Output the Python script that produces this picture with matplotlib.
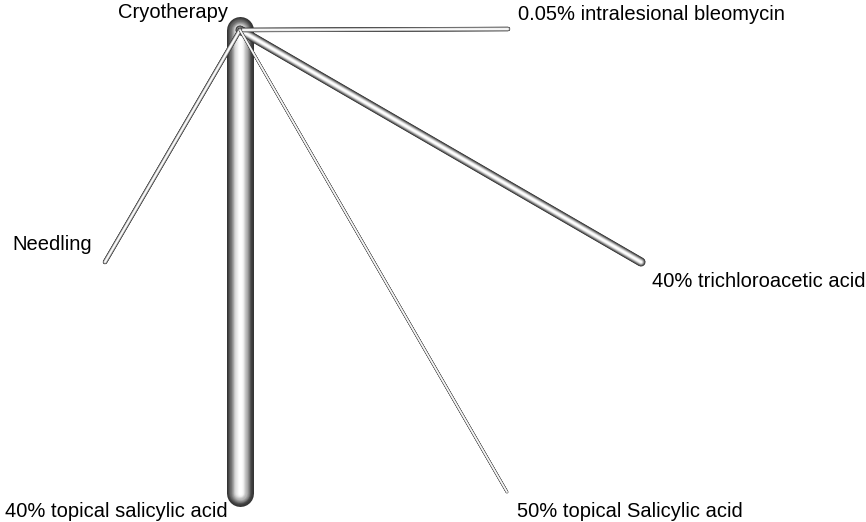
"""Network map of wart treatments (shaded tubes)."""
import matplotlib.pyplot as plt
import numpy as np

# treatments and layout positions (pixel-like units)
nodes = [
    "Cryotherapy",
    "0.05% intralesional bleomycin",
    "Needling",
    "40% trichloroacetic acid",
    "40% topical salicylic acid",
    "50% topical Salicylic acid",
]
node_x = [240, 508, 105, 641, 240, 507]
node_y = [30, 29, 262, 262, 493, 492]

# comparisons: (from, to, number of studies)
edge_from = [0, 0, 0, 0, 0]
edge_to = [4, 3, 1, 2, 5]
edge_studies = [6, 2, 1, 1, 0.6]

# label placement: offset in px from node to text baseline
label_dx = [-12, 10, -13, 11, -12, 10]
label_dy = [-12, -9, -12, 25, 24, 25]
label_ha = ["right", "left", "right", "left", "right", "left"]

fig = plt.figure(figsize=(8.66, 5.22), dpi=100)
ax = fig.add_axes([0, 0, 1, 1])
ax.set_xlim(0, 866)
ax.set_ylim(522, 0)
ax.axis("off")

px = 0.72  # points per pixel


def tube(x0, y0, x1, y1, width_px, zorder):
    n = 16
    for i in range(n):
        frac = 1 - i / n
        t = i / (n - 1)
        grey = 0.2 + 0.8 * np.sin(t * np.pi / 2) ** 1.5
        ax.plot([x0, x1], [y0, y1], color=str(min(grey, 1.0)),
                lw=width_px * px * frac, solid_capstyle="round",
                zorder=zorder)


order = np.argsort(edge_studies)[::-1]
for k, e in enumerate(order):
    a, b = edge_from[e], edge_to[e]
    w = 4.5 * edge_studies[e]
    tube(node_x[a], node_y[a], node_x[b], node_y[b], w, 2 + k)

for i, name in enumerate(nodes):
    ax.text(node_x[i] + label_dx[i], node_y[i] + label_dy[i], name,
            ha=label_ha[i], va="baseline", fontsize=14.5,
            family=["Liberation Sans", "DejaVu Sans"], zorder=20)

fig.savefig("out.png", dpi=100)
